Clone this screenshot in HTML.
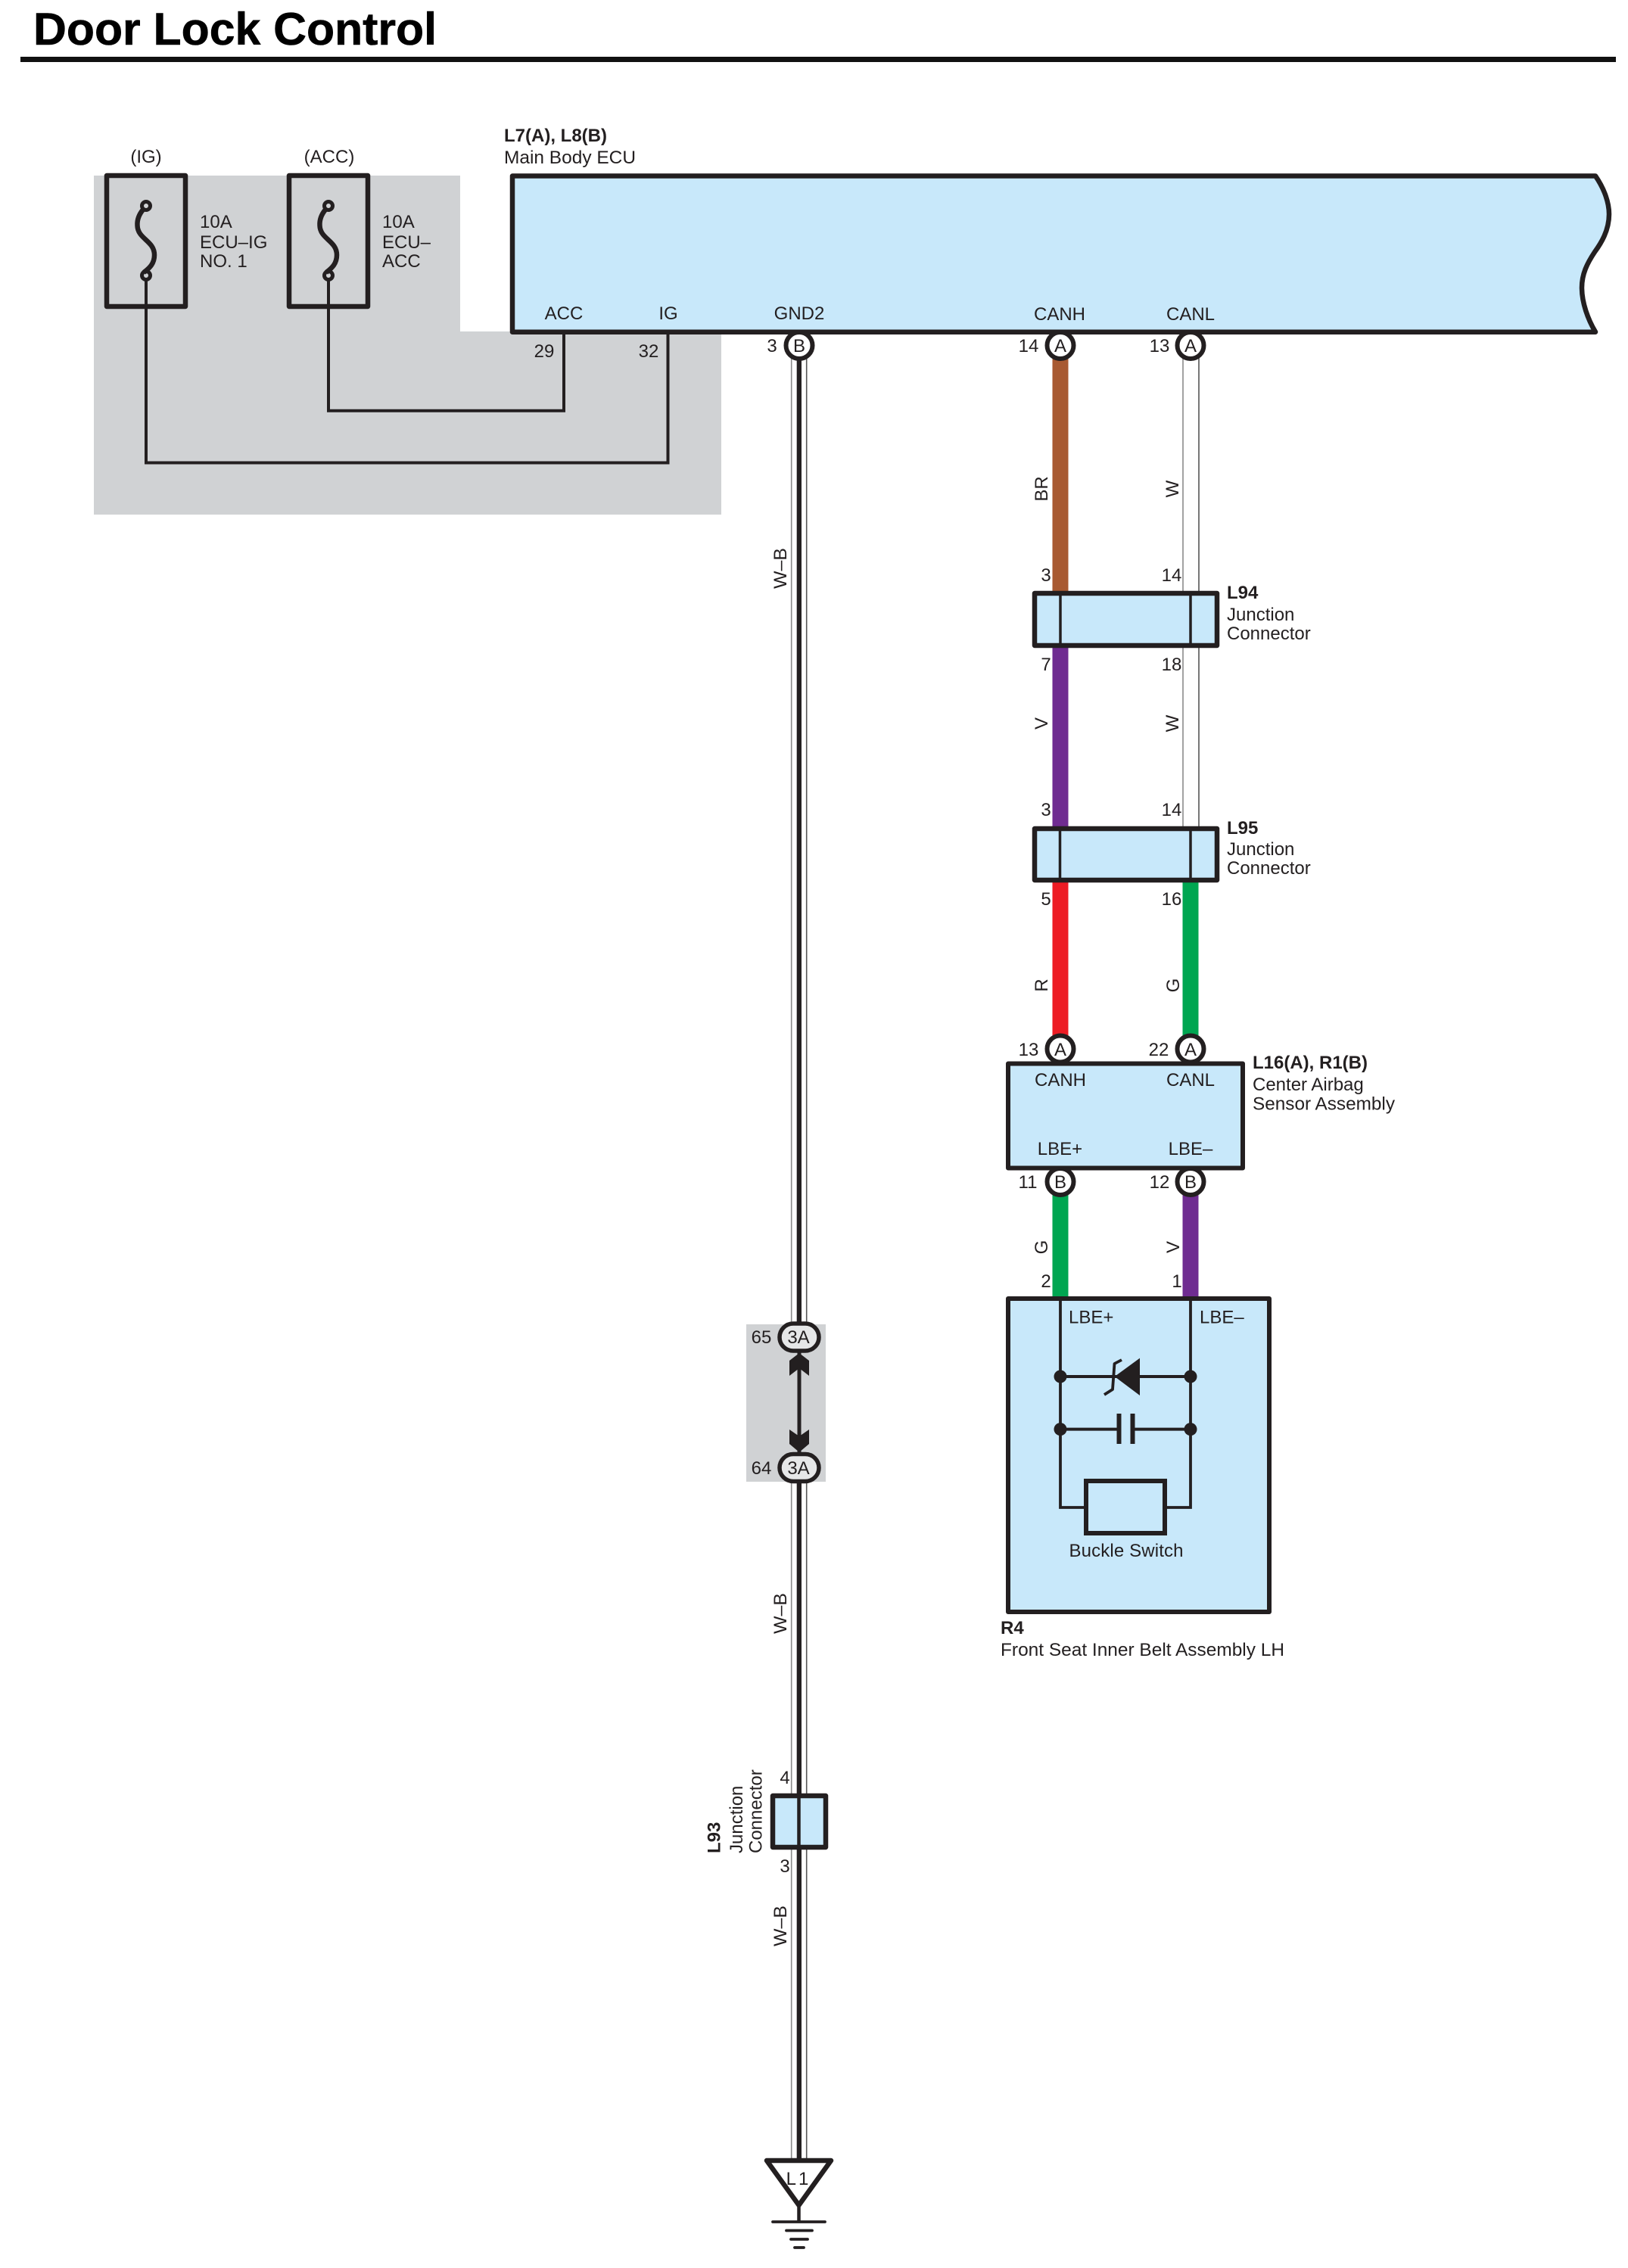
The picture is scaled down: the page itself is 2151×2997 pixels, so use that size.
<!DOCTYPE html>
<html lang="en">
<head>
<meta charset="utf-8">
<title>Door Lock Control</title>
<style>
html,body{margin:0;padding:0;background:#fff}
svg{display:block}
text{font-family:"Liberation Sans",sans-serif;font-size:24px;fill:#231f20}
.b{font-weight:bold}
.m{text-anchor:middle}
</style>
</head>
<body>
<svg xmlns="http://www.w3.org/2000/svg" width="2151" height="2997" viewBox="0 0 2151 2997">
<rect width="2151" height="2997" fill="#fff"/>

<!-- Title -->
<text x="44" y="59" class="b" textLength="533" lengthAdjust="spacingAndGlyphs" style="font-size:60px;fill:#000;stroke:#000;stroke-width:.6">Door Lock Control</text>
<rect x="27" y="75" width="2108" height="7" fill="#111"/>

<!-- Grey area -->
<polygon points="124,232 608,232 608,438 953,438 953,680 124,680" fill="#d0d2d4"/>

<!-- Fuses -->
<g fill="none" stroke="#231f20">
  <rect x="141" y="232" width="104" height="173" stroke-width="6.5" stroke-linejoin="round"/>
  <rect x="382" y="232" width="104" height="173" stroke-width="6.5" stroke-linejoin="round"/>
  <path d="M189,277 C184,283 181,290 181.5,298 C182,316 204,318 204,337 C204,348 198,354 190,360" stroke-width="6.5"/>
  <path d="M430,277 C425,283 422,290 422.5,298 C423,316 445,318 445,337 C445,348 439,354 431,360" stroke-width="6.5"/>
  <circle cx="193" cy="272" r="5.5" stroke-width="5"/>
  <circle cx="193" cy="364" r="5.5" stroke-width="5"/>
  <circle cx="434" cy="272" r="5.5" stroke-width="5"/>
  <circle cx="434" cy="364" r="5.5" stroke-width="5"/>
  <polyline points="193,370 193,611.5 882.5,611.5 882.5,438" stroke-width="4"/>
  <polyline points="434,370 434,542.7 745,542.7 745,438" stroke-width="4"/>
</g>
<text x="193" y="215" class="m">(IG)</text>
<text x="435" y="215" class="m">(ACC)</text>
<text x="264" y="301">10A</text>
<text x="264" y="328">ECU–IG</text>
<text x="264" y="353">NO. 1</text>
<text x="505" y="301">10A</text>
<text x="505" y="328">ECU–</text>
<text x="505" y="353">ACC</text>

<!-- Main Body ECU -->
<path d="M677,232.5 H2108 C2120,250 2126,268 2126,283 C2126,305 2115,322 2107,333 C2097,348 2090,362 2090,380 C2090,400 2098,422 2108,438.7 H677 Z" fill="#c8e8fa" stroke="#231f20" stroke-width="6.5" stroke-linejoin="round"/>
<text x="666" y="187" class="b">L7(A), L8(B)</text>
<text x="666" y="216" textLength="174" lengthAdjust="spacingAndGlyphs">Main Body ECU</text>
<text x="745" y="422" class="m">ACC</text>
<text x="883" y="422" class="m">IG</text>
<text x="1056" y="422" class="m">GND2</text>
<text x="1400" y="423" class="m">CANH</text>
<text x="1573" y="423" class="m">CANL</text>
<text x="719" y="472" class="m">29</text>
<text x="857" y="472" class="m">32</text>

<!-- W-B wire -->
<rect x="1046" y="470" width="20" height="2385" fill="#fff"/>
<g stroke-width="1.6" fill="none">
  <line x1="1045.7" y1="470" x2="1045.7" y2="2855" stroke="#8a8a8a"/>
  <line x1="1065.7" y1="470" x2="1065.7" y2="2855" stroke="#555"/>
  <line x1="1563" y1="470" x2="1563" y2="1095" stroke="#8a8a8a"/>
  <line x1="1584" y1="470" x2="1584" y2="1095" stroke="#555"/>
</g>

<!-- Colored wires -->
<rect x="1390.5" y="470" width="21" height="315" fill="#a85a32"/>
<rect x="1390.5" y="853" width="21" height="245" fill="#6f2c91"/>
<rect x="1390.5" y="1163" width="21" height="210" fill="#ed1c24"/>
<rect x="1562.5" y="1163" width="21" height="210" fill="#00a651"/>
<rect x="1390.5" y="1575" width="21" height="140" fill="#00a651"/>
<rect x="1562.5" y="1575" width="21" height="140" fill="#6f2c91"/>

<!-- Grey 65/64 block -->
<rect x="986" y="1750" width="105" height="208" fill="#d0d2d4"/>

<!-- black core of W-B wire -->
<rect x="1052.7" y="470" width="6.3" height="1285" fill="#231f20"/>
<rect x="1052.7" y="1955" width="6.3" height="900" fill="#231f20"/>

<!-- Pins on ECU -->
<g fill="#fff" stroke="#231f20" stroke-width="6">
  <circle cx="1056" cy="456.5" r="17.5"/>
  <circle cx="1401" cy="456.5" r="17.5"/>
  <circle cx="1573" cy="456.5" r="17.5"/>
  <circle cx="1401" cy="1386" r="17.5"/>
  <circle cx="1573" cy="1386" r="17.5"/>
  <circle cx="1401" cy="1561.5" r="17.5"/>
  <circle cx="1573" cy="1561.5" r="17.5"/>
</g>
<text x="1056" y="465" class="m">B</text>
<text x="1401" y="465" class="m">A</text>
<text x="1573" y="465" class="m">A</text>
<text x="1020" y="465" class="m">3</text>
<text x="1359" y="465" class="m">14</text>
<text x="1532" y="465" class="m">13</text>

<!-- Wire labels -->
<text transform="translate(1384,646) rotate(-90)" class="m">BR</text>
<text transform="translate(1557,646) rotate(-90)" class="m">W</text>
<text transform="translate(1039,751) rotate(-90)" class="m" textLength="54" lengthAdjust="spacingAndGlyphs">W–B</text>
<text transform="translate(1384,956) rotate(-90)" class="m">V</text>
<text transform="translate(1557,956) rotate(-90)" class="m">W</text>
<text transform="translate(1384,1302) rotate(-90)" class="m">R</text>
<text transform="translate(1558,1302) rotate(-90)" class="m">G</text>
<text transform="translate(1384,1648) rotate(-90)" class="m">G</text>
<text transform="translate(1558,1648) rotate(-90)" class="m">V</text>
<text transform="translate(1039,2132) rotate(-90)" class="m" textLength="54" lengthAdjust="spacingAndGlyphs">W–B</text>
<text transform="translate(1039,2545) rotate(-90)" class="m" textLength="54" lengthAdjust="spacingAndGlyphs">W–B</text>

<!-- L94 -->
<rect x="1367" y="784" width="241" height="69" fill="#c8e8fa" stroke="#231f20" stroke-width="6.5" stroke-linejoin="round"/>
<line x1="1401" y1="784" x2="1401" y2="853" stroke="#231f20" stroke-width="3.5"/>
<line x1="1573" y1="784" x2="1573" y2="853" stroke="#231f20" stroke-width="3.5"/>
<text x="1382" y="768" class="m">3</text>
<text x="1548" y="768" class="m">14</text>
<text x="1382" y="886" class="m">7</text>
<text x="1548" y="886" class="m">18</text>
<text x="1621" y="791" class="b">L94</text>
<text x="1621" y="820">Junction</text>
<text x="1621" y="845">Connector</text>

<!-- L95 -->
<rect x="1367" y="1095" width="241" height="68" fill="#c8e8fa" stroke="#231f20" stroke-width="6.5" stroke-linejoin="round"/>
<line x1="1400.5" y1="1095" x2="1400.5" y2="1163" stroke="#231f20" stroke-width="3.5"/>
<line x1="1573" y1="1095" x2="1573" y2="1163" stroke="#231f20" stroke-width="3.5"/>
<text x="1382" y="1078" class="m">3</text>
<text x="1548" y="1078" class="m">14</text>
<text x="1382" y="1196" class="m">5</text>
<text x="1548" y="1196" class="m">16</text>
<text x="1621" y="1102" class="b">L95</text>
<text x="1621" y="1130">Junction</text>
<text x="1621" y="1155">Connector</text>

<!-- L16 / R1 -->
<rect x="1332" y="1405.5" width="310" height="138" fill="#c8e8fa" stroke="#231f20" stroke-width="6" stroke-linejoin="round"/>
<text x="1401" y="1395" class="m">A</text>
<text x="1573" y="1395" class="m">A</text>
<text x="1359" y="1395" class="m">13</text>
<text x="1531" y="1395" class="m">22</text>
<text x="1401" y="1435" class="m">CANH</text>
<text x="1573" y="1435" class="m">CANL</text>
<text x="1400.5" y="1526" class="m">LBE+</text>
<text x="1573" y="1526" class="m">LBE–</text>
<text x="1401" y="1570" class="m">B</text>
<text x="1573" y="1570" class="m">B</text>
<text x="1358" y="1570" class="m">11</text>
<text x="1532" y="1570" class="m">12</text>
<text x="1655" y="1412" class="b" textLength="152" lengthAdjust="spacingAndGlyphs">L16(A), R1(B)</text>
<text x="1655" y="1441">Center Airbag</text>
<text x="1655" y="1466.5" textLength="188" lengthAdjust="spacingAndGlyphs">Sensor Assembly</text>

<!-- R4 -->
<rect x="1332" y="1716" width="345" height="414" fill="#c8e8fa" stroke="#231f20" stroke-width="6" stroke-linejoin="round"/>
<text x="1382" y="1701" class="m">2</text>
<text x="1555" y="1701" class="m">1</text>
<text x="1412" y="1748.5">LBE+</text>
<text x="1585" y="1748.5">LBE–</text>
<g fill="none" stroke="#231f20">
  <polyline points="1401,1716 1401,1992 1435,1992" stroke-width="3.8"/>
  <polyline points="1573,1716 1573,1992 1539,1992" stroke-width="3.8"/>
  <line x1="1401" y1="1819" x2="1573" y2="1819" stroke-width="4"/>
  <polyline points="1482,1797 1472.5,1802 1470,1836 1459,1843" stroke-width="3.8" stroke-linejoin="round"/>
  <line x1="1401" y1="1888.6" x2="1478" y2="1888.6" stroke-width="4"/>
  <line x1="1496" y1="1888.6" x2="1573" y2="1888.6" stroke-width="4"/>
  <line x1="1478.5" y1="1868" x2="1478.5" y2="1908" stroke-width="6"/>
  <line x1="1496.5" y1="1868" x2="1496.5" y2="1908" stroke-width="6"/>
  <rect x="1435" y="1957" width="104" height="69" stroke-width="6"/>
</g>
<polygon points="1472.7,1819 1506,1794.6 1506,1844" fill="#231f20"/>
<g fill="#231f20">
  <circle cx="1401" cy="1819" r="8.5"/>
  <circle cx="1573" cy="1819" r="8.5"/>
  <circle cx="1401" cy="1888.6" r="8.5"/>
  <circle cx="1573" cy="1888.6" r="8.5"/>
</g>
<text x="1488" y="2057" class="m" textLength="151" lengthAdjust="spacing">Buckle Switch</text>
<text x="1322" y="2159" class="b">R4</text>
<text x="1322" y="2188" textLength="375" lengthAdjust="spacingAndGlyphs">Front Seat Inner Belt Assembly LH</text>

<!-- 65 / 64 -->
<line x1="1056" y1="1785" x2="1056" y2="1920" stroke="#231f20" stroke-width="5"/>
<polygon points="1056,1788 1069,1798 1069,1818 1056,1808 1043,1818 1043,1798" fill="#231f20"/>
<polygon points="1043,1889 1056,1898 1069,1889 1069,1908 1056,1919 1043,1908" fill="#231f20"/>
<rect x="1030" y="1749" width="52" height="36" rx="18" ry="18" fill="#e6e7e8" stroke="#231f20" stroke-width="5.5"/>
<rect x="1030" y="1921.5" width="52" height="36" rx="18" ry="18" fill="#e6e7e8" stroke="#231f20" stroke-width="5.5"/>
<text x="1055" y="1775" class="m">3A</text>
<text x="1055" y="1948" class="m">3A</text>
<text x="1006" y="1775" class="m">65</text>
<text x="1006" y="1948" class="m">64</text>

<!-- L93 -->
<rect x="1021" y="2373" width="70" height="68" fill="#c8e8fa" stroke="#231f20" stroke-width="6.5" stroke-linejoin="round"/>
<line x1="1055.5" y1="2373" x2="1055.5" y2="2441" stroke="#231f20" stroke-width="4.5"/>
<text x="1037" y="2357" class="m">4</text>
<text x="1037" y="2474" class="m">3</text>
<text transform="translate(951.5,2449) rotate(-90)" class="b">L93</text>
<text transform="translate(981,2449) rotate(-90)">Junction</text>
<text transform="translate(1006.5,2449) rotate(-90)">Connector</text>

<!-- Ground -->
<polygon points="1013,2855 1098,2855 1055.5,2914" fill="#fff" stroke="#231f20" stroke-width="6.5" stroke-linejoin="round"/>
<text x="1055" y="2887" class="m" style="letter-spacing:3px">L1</text>
<line x1="1055.5" y1="2914" x2="1055.5" y2="2936" stroke="#231f20" stroke-width="4.5"/>
<g stroke="#231f20" stroke-width="3.8" stroke-linecap="round">
  <line x1="1021" y1="2936" x2="1090" y2="2936"/>
  <line x1="1039" y1="2947.5" x2="1073" y2="2947.5"/>
  <line x1="1045" y1="2959" x2="1067" y2="2959"/>
  <line x1="1050" y1="2970" x2="1062" y2="2970"/>
</g>
</svg>
</body>
</html>
